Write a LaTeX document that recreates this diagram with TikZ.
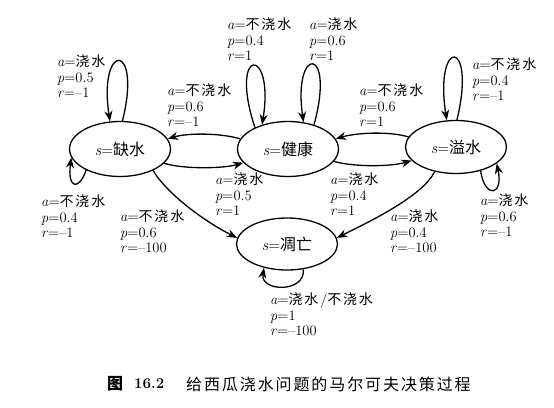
\documentclass[tikz,border=0pt]{standalone}
\usepackage{fontspec}
\usetikzlibrary{shapes.geometric,arrows.meta}
\newfontfamily\cjk{Noto Sans CJK SC}
\makeatletter
\newcommand\zhs[2]{\@tfor\zzch:=#2\do{\makebox[#1][l]{\cjk\zzch}}}
\makeatother
\newcommand\zh[1]{{\fontsize{14}{15.5}\selectfont\zhs{15.8pt}{#1}}}
\newcommand\lbl[3]{\textit{a}=#1\\\textit{p}=#2\\\textit{r}=#3}
\begin{document}
\begin{tikzpicture}[x=1pt,y=-1pt,
  state/.style={ellipse,draw,line width=1.3pt,minimum width=101pt,minimum height=55pt,inner sep=0pt,font=\fontsize{16}{18}\selectfont},
  lab/.style={anchor=north west,inner sep=0pt,align=left,font=\fontsize{14.5}{15.5}\selectfont},
  arr/.style={line width=1.3pt,-{Stealth[length=10.5pt,width=8pt]}}]
\fill[white] (0,0) rectangle (554,407);
\useasboundingbox (0,0) rectangle (554,407);
\node[state] (Q) at (120,149) {\textit{s}={\cjk 缺水}};
\node[state] (J) at (288,149) {\textit{s}={\cjk 健康}};
\node[state,minimum height=53pt] (Y) at (456,147) {\textit{s}={\cjk 溢水}};
\node[state,minimum height=52pt] (D) at (287,244) {\textit{s}={\cjk 凋亡}};
% edges between states
\draw[arr] (J.168) .. controls +(-20,-6) and +(20,-6) .. (Q.12);
\draw[arr] (Q.-18) .. controls +(20,6) and +(-20,6) .. (J.197);
\draw[arr] (Y.168) .. controls +(-20,-6) and +(20,-6) .. (J.12);
\draw[arr] (J.-15) .. controls +(20,6) and +(-20,6) .. (Y.197);
\draw[arr] (Q.-33) .. controls +(15,25) and +(-30,-15) .. (D.173);
\draw[arr] (Y.229) .. controls +(-12,25) and +(30,-15) .. (D.7);
% self loops
\draw[arr] (Q.85) .. controls +(20,-80) and +(-12,-80) .. (Q.110);
\draw[arr] (Q.212) .. controls +(-8,22) and +(-4,30) .. (Q.190);
\draw[arr] (J.147) .. controls +(-27,-82) and +(13,-79) .. (J.137);
\draw[arr] (J.43) .. controls +(22,-80) and +(-11,-77) .. (J.60);
\draw[arr] (Y.88) .. controls +(20,-83) and +(-13,-83) .. (Y.109);
\draw[arr] (Y.-44) .. controls +(4,28) and +(7,33) .. (Y.-22);
\draw[arr] (D.-57) .. controls +(2,24) and +(-4,24) .. (D.226);
% labels
\node[lab] (l1) at (57,55) {\lbl{\zh{浇水}}{0.5}{--1}};
\node[lab] (l2) at (167,84) {\lbl{\zh{不浇水}}{0.6}{--1}};
\node[lab] (l3) at (227,18) {\lbl{\zh{不浇水}}{0.4}{1}};
\node[lab] (l4) at (309,18) {\lbl{\zh{浇水}}{0.6}{1}};
\node[lab] (l5) at (359,84) {\lbl{\zh{不浇水}}{0.6}{1}};
\node[lab] (l6) at (472,58) {\lbl{\zh{不浇水}}{0.4}{--1}};
\node[lab] (l7) at (215,173) {\lbl{\zh{浇水}}{0.5}{1}};
\node[lab] (l8) at (330,173) {\lbl{\zh{浇水}}{0.4}{1}};
\node[lab] (l9) at (41,195) {\lbl{\zh{不浇水}}{0.4}{--1}};
\node[lab] (l10) at (120,210) {\lbl{\zh{不浇水}}{0.6}{--100}};
\node[lab] (l11) at (390,210) {\lbl{\zh{浇水}}{0.4}{--100}};
\node[lab] (l12) at (480,194) {\lbl{\zh{浇水}}{0.6}{--1}};
\node[lab] (l13) at (270,293) {\lbl{\zh{浇水}/\zh{不浇水}}{1}{--100}};
% caption
\node[anchor=west,inner sep=0pt,font=\fontsize{16}{19}\selectfont] (c1) at (107,384) {{\cjk\bfseries 图}};
\node[anchor=west,inner sep=0pt,font=\fontsize{15}{18}\selectfont\bfseries] (c2) at (134,384) {16.2};
\node[anchor=west,inner sep=0pt,font=\fontsize{16}{19}\selectfont] (c3) at (186,384) {\zhs{17.9pt}{给西瓜浇水问题的马尔可夫决策过程}};
\end{tikzpicture}
\end{document}
